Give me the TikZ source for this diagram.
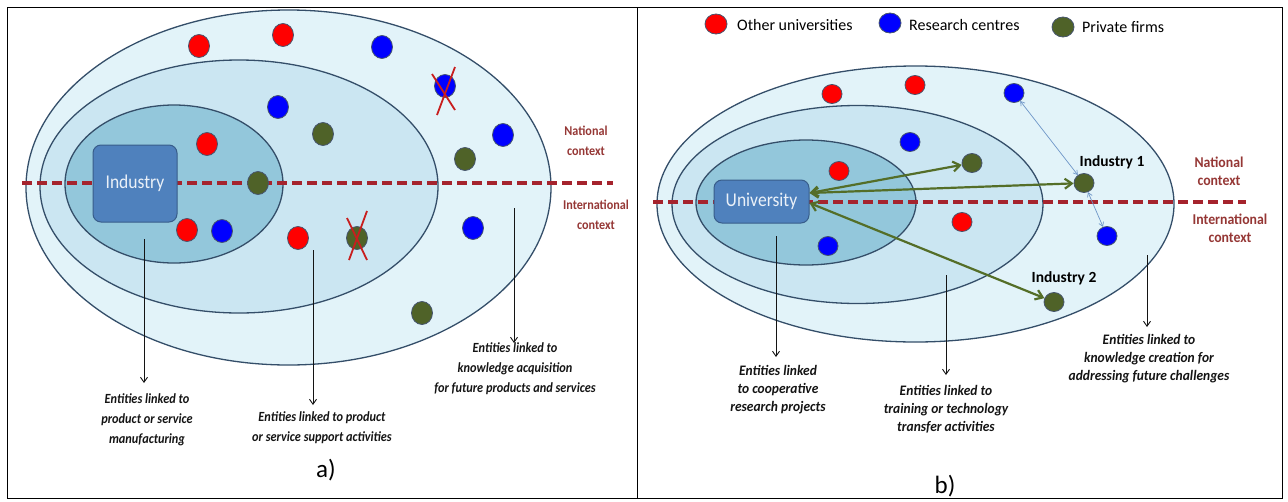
\documentclass[tikz,border=0pt]{standalone}
\usepackage{fontspec}
\setmainfont{Carlito}
\usetikzlibrary{arrows.meta,calc,shapes.geometric}

\definecolor{ringOuter}{RGB}{226,243,249}
\definecolor{ringMid}{RGB}{203,230,242}
\definecolor{ringInner}{RGB}{147,199,219}
\definecolor{ringLine}{RGB}{52,78,105}
\definecolor{boxFill}{RGB}{79,129,189}
\definecolor{boxLine}{RGB}{56,93,138}
\definecolor{boxText}{RGB}{235,241,248}
\definecolor{ctxRed}{RGB}{149,55,53}
\definecolor{dashRed}{RGB}{165,35,45}
\definecolor{firmGreen}{RGB}{79,98,40}
\definecolor{arrowGreen}{RGB}{84,110,40}
\definecolor{linkBlue}{RGB}{110,150,200}
\definecolor{dotEdge}{RGB}{70,85,110}
\definecolor{crossRed}{RGB}{200,30,30}
\definecolor{noteInk}{RGB}{20,20,20}

\tikzset{
  ring/.style={draw=ringLine, line width=1.3pt},
  border/.style={dashRed, line width=3.2pt, dash pattern=on 9.5pt off 5.5pt},
  actor/.style={draw=boxLine, line width=1pt, fill=boxFill, rounded corners=8pt,
    text=boxText, inner sep=0pt},
  actortext/.style={font=\fontsize{19.5}{20}\selectfont, xscale=0.9, transform shape},
  dot/.style={ellipse, inner sep=0pt, draw=dotEdge, line width=0.8pt,
    minimum width=21pt, minimum height=23pt},
  bdot/.style={dot, minimum width=20pt, minimum height=19pt},
  uni/.style={fill=red},
  rc/.style={fill=blue},
  firm/.style={fill=firmGreen},
  xmark/.style={crossRed, line width=1.8pt},
  callout/.style={noteInk, line width=0.9pt, -{Straight Barb[length=5pt,width=7pt]}},
  link/.style={arrowGreen, line width=2.2pt,
    {Straight Barb[length=7pt,width=10pt]}-{Straight Barb[length=7pt,width=10pt]}},
  thinlink/.style={linkBlue, line width=0.7pt,
    {Straight Barb[length=4pt,width=5pt]}-{Straight Barb[length=4pt,width=5pt]}},
  notea/.style={text=noteInk, align=center, inner sep=0pt, xscale=0.88, transform shape,
    font=\fontsize{14}{20}\selectfont\bfseries\itshape},
  noteb/.style={text=noteInk, align=center, inner sep=0pt, xscale=0.93, transform shape,
    font=\fontsize{14.5}{18}\selectfont\bfseries\itshape},
  ctxa/.style={text=ctxRed, align=center, inner sep=0pt, xscale=0.9, transform shape,
    font=\fontsize{13.5}{20}\selectfont\bfseries},
  ctxb/.style={text=ctxRed, align=center, inner sep=0pt, xscale=0.92, transform shape,
    font=\fontsize{15}{18}\selectfont\bfseries},
  legend/.style={anchor=west, inner sep=0pt, font=\fontsize{16}{18}\selectfont},
  tag/.style={inner sep=0pt, font=\fontsize{15.5}{18}\selectfont\bfseries},
  panel/.style={inner sep=0pt, font=\fontsize{25}{28}\selectfont},
}

\begin{document}
\begin{tikzpicture}[x=1pt,y=-1pt]
\useasboundingbox (0,0) rectangle (1288,501);

% table frame with the two cells
\draw[line width=1pt] (7,7) rectangle (1282,498);
\draw[line width=1pt] (637,7) -- (637,498);

%% ---------------- a) industry perspective ----------------
\draw[ring, fill=ringOuter] (288.5,187.5) ellipse [x radius=262.5pt, y radius=177.5pt];
\draw[ring, fill=ringMid]   (239,186.5)  ellipse [x radius=199pt, y radius=126.5pt];
\draw[ring, fill=ringInner] (174,184)    ellipse [x radius=109pt, y radius=79pt];

\draw[border] (22,183) -- (613,183);

\node[actor, minimum width=84pt, minimum height=77pt] (ind) at (135,183.5) {};
\node[actortext, text=boxText, inner sep=0pt] at (ind.center) {Industry};

\node[dot, uni]  (ar1) at (199,46)  {};
\node[dot, uni]  (ar2) at (283,35)  {};
\node[dot, uni]  (ar3) at (207,144) {};
\node[dot, uni]  (ar4) at (187,230) {};
\node[dot, uni]  (ar5) at (298,238) {};
\node[dot, rc]   (ab1) at (382,47)  {};
\node[dot, rc]   (ab2) at (445,86)  {};
\node[dot, rc]   (ab3) at (278,107) {};
\node[dot, rc]   (ab4) at (503,135) {};
\node[dot, rc]   (ab5) at (222,231) {};
\node[dot, rc]   (ab6) at (473,228) {};
\node[dot, firm] (ag1) at (323,134) {};
\node[dot, firm] (ag2) at (465,159) {};
\node[dot, firm] (ag3) at (258,183) {};
\node[dot, firm] (ag4) at (357,238) {};
\node[dot, firm] (ag5) at (422,313) {};

% struck-out partners
\draw[xmark] ($(ab2)+(-13,-12)$) -- ($(ab2)+(10,24)$);
\draw[xmark] ($(ab2)+(10,-19)$)  -- ($(ab2)+(-8,29)$);
\draw[xmark] ($(ag4)+(-10,-20)$) -- ($(ag4)+(10,22)$);
\draw[xmark] ($(ag4)+(10,-27)$)  -- ($(ag4)+(-8,22)$);

\node[ctxa] (anat) at (586,141)   {National\\context};
\node[ctxa] (aint) at (596,214.5) {International\\context};

\coordinate (aL0) at (144,239); \coordinate (aL1) at (144,383);
\coordinate (aM0) at (313,250); \coordinate (aM1) at (313,405);
\coordinate (aR0) at (514,208); \coordinate (aR1) at (514,343);
\draw[callout] (aL0) -- (aL1);
\draw[callout] (aM0) -- (aM1);
\draw[callout] (aR0) -- (aR1);

\node[notea] (anL) at (147,420) {Entities linked to\\product or service\\manufacturing};
\node[notea] (anM) at (322,428) {Entities linked to product\\or service support activities};
\node[notea] (anR) at (515,369) {Entities linked to\\knowledge acquisition\\for future products and services};

\node[panel] (pa) at (326,470) {a)};

%% ---------------- b) university perspective ----------------
\node[bdot, uni]  (lg1) at (716,24) [minimum width=22pt, minimum height=20pt] {};
\node[legend] at (737,25) {Other universities};
\node[bdot, rc]   (lg2) at (890,23) [minimum width=22pt, minimum height=20pt] {};
\node[legend] at (909,25) {Research centres};
\node[bdot, firm] (lg3) at (1063,27) [minimum width=22pt, minimum height=20pt] {};
\node[legend] at (1082,27) {Private firms};

\draw[ring, fill=ringOuter] (915.5,204) ellipse [x radius=258.5pt, y radius=138pt];
\draw[ring, fill=ringMid]   (857.5,204.5) ellipse [x radius=185.5pt, y radius=99pt];
\draw[ring, fill=ringInner] (806,202.5) ellipse [x radius=110pt, y radius=62.5pt];

\draw[border] (653,202) -- (1246,202);

\node[actor, minimum width=95pt, minimum height=43pt] (univ) at (761.5,201.5) {};
\node[actortext, text=boxText, inner sep=0pt] at (univ.center) {University};

\node[bdot, uni]  (br1) at (832,94)  {};
\node[bdot, uni]  (br2) at (915,85)  {};
\node[bdot, uni]  (br3) at (839,171) {};
\node[bdot, uni]  (br4) at (962,222) {};
\node[bdot, rc]   (bb1) at (1014,93) {};
\node[bdot, rc]   (bb2) at (910,142) {};
\node[bdot, rc]   (bb3) at (828,246) {};
\node[bdot, rc]   (bb4) at (1107,236) {};
\node[bdot, firm] (bg1) at (972,163) {};
\node[bdot, firm] (ind1) at (1084,183) {};
\node[bdot, firm] (ind2) at (1054,302) {};

\node[tag] at (1112,162) {Industry 1};
\node[tag] at (1064,278) {Industry 2};

\draw[link] ([yshift=8.5pt]univ.east) -- (bg1);
\draw[link] ([yshift=8.5pt]univ.east) -- (ind1);
\draw[link] ([yshift=-1.5pt]univ.east) -- (ind2);
\draw[thinlink] (bb1) -- (ind1);
\draw[thinlink] (ind1) -- (bb4);

\node[ctxb] (bnat) at (1219,171) {National\\context};
\node[ctxb] (bint) at (1230,228) {International\\context};

\coordinate (bL0) at (776,236);  \coordinate (bL1) at (776,357);
\coordinate (bM0) at (946,275);  \coordinate (bM1) at (946,375);
\coordinate (bR0) at (1147,255); \coordinate (bR1) at (1147,327);
\draw[callout] (bL0) -- (bL1);
\draw[callout] (bM0) -- (bM1);
\draw[callout] (bR0) -- (bR1);

\node[noteb] (bnL) at (778,390)  {Entities linked\\to cooperative\\research projects};
\node[noteb] (bnM) at (946,409)  {Entities linked to\\training or technology\\transfer activities};
\node[noteb] (bnR) at (1149,359) {Entities linked to\\knowledge creation for\\addressing future challenges};

\node[panel] (pb) at (945,486) {b)};
\end{tikzpicture}
\end{document}
